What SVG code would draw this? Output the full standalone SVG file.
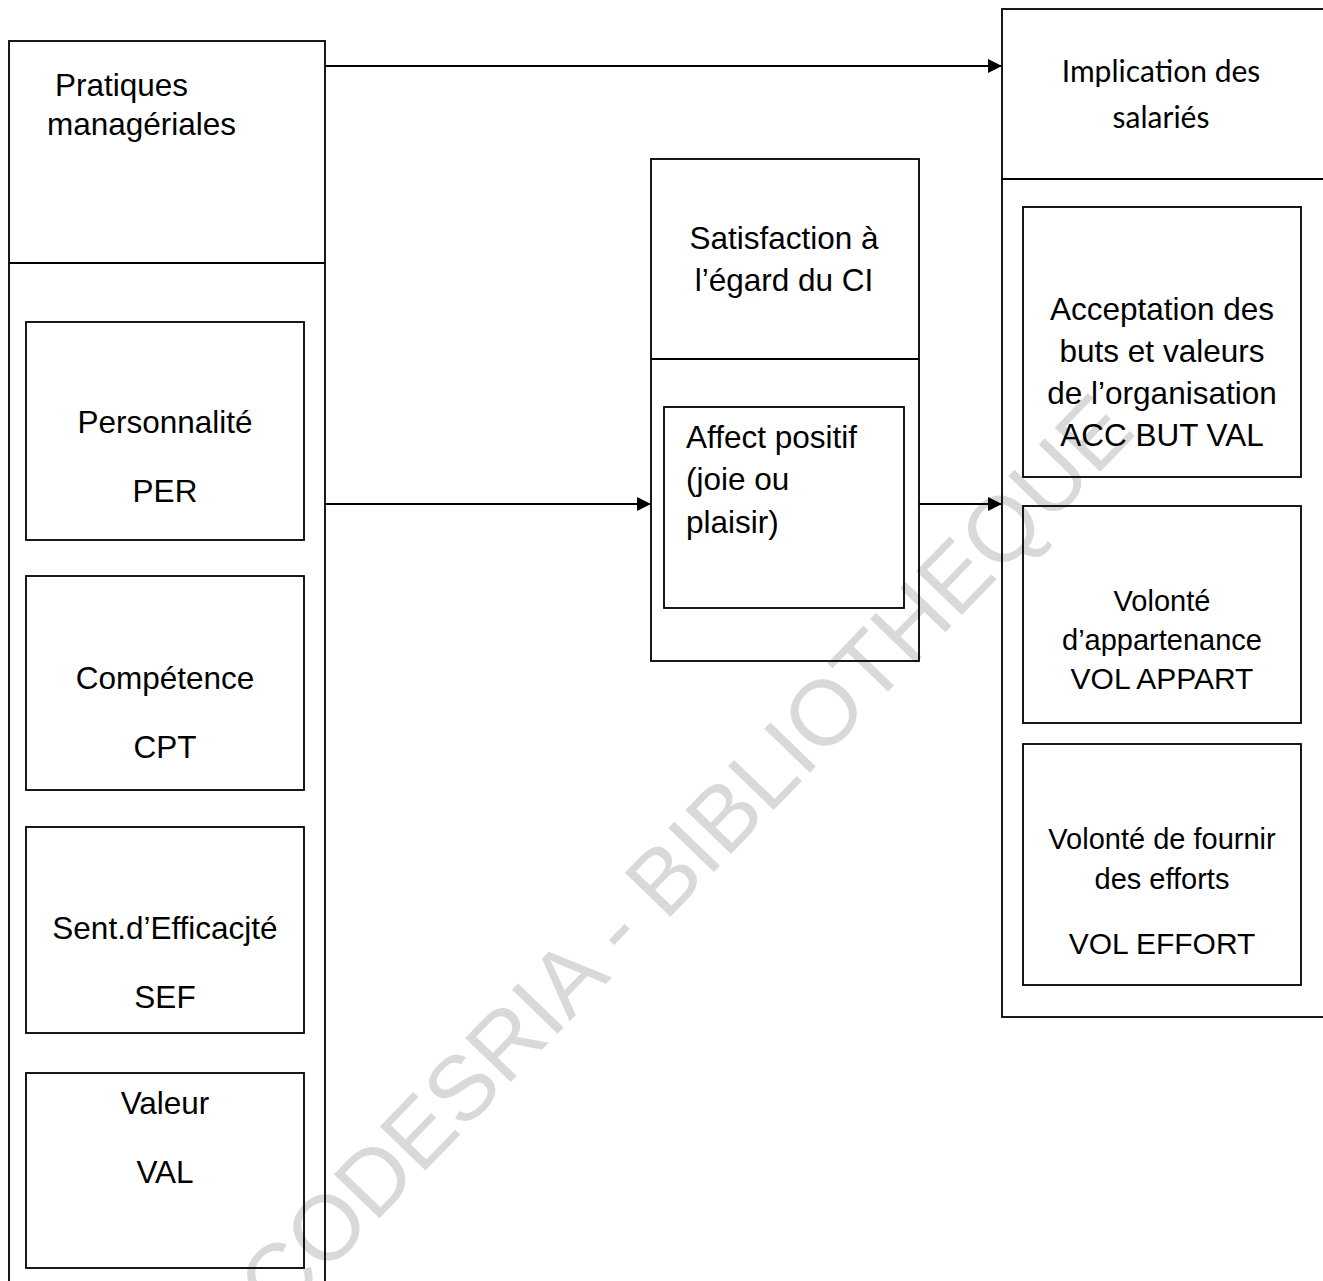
<svg xmlns="http://www.w3.org/2000/svg" width="1323" height="1281" viewBox="0 0 1323 1281">
  <defs>
    <style>
      .box { fill: none; stroke: #000; stroke-width: 1.8; }
      .wire { fill: none; stroke: #000; stroke-width: 1.8; }
      .lbl { font-family: "Liberation Sans", Arial, sans-serif; font-size: 31.5px; fill: #000; }
      .sm { font-size: 29px; }
      .md { font-size: 30px; }
      .mid { text-anchor: middle; }
      .cal { font-family: Lato, "Liberation Sans", sans-serif; font-size: 30px; fill: #000; text-anchor: middle; }
      .mark { font-family: "Liberation Sans", Arial, sans-serif; font-size: 92px; fill: #d9d9d9; text-anchor: middle; }
    </style>
    <marker id="arrow" viewBox="0 0 14 14" refX="14" refY="7" markerWidth="14" markerHeight="14" markerUnits="userSpaceOnUse" orient="auto">
      <path d="M0,0 L14,7 L0,14 Z" fill="#000"/>
    </marker>
  </defs>
  <rect width="1323" height="1281" fill="#fff"/>

  <!-- library stamp, drawn beneath everything -->
  <text class="mark" x="708" y="878" transform="rotate(-46 708 878)">CODESRIA - BIBLIOTHEQUE</text>

  <!-- Managerial practices column -->
  <g id="pratiques">
    <rect class="box" x="9" y="41" width="316" height="1260"/>
    <line class="box" x1="9" y1="263" x2="325" y2="263"/>
    <text class="lbl" x="55" y="96">Pratiques</text>
    <text class="lbl" x="47" y="135">managériales</text>
  </g>
  <g id="per">
    <rect class="box" x="26" y="322" width="278" height="218"/>
    <text class="lbl mid" x="165" y="433">Personnalité</text>
    <text class="lbl mid" x="165" y="502">PER</text>
  </g>
  <g id="cpt">
    <rect class="box" x="26" y="576" width="278" height="214"/>
    <text class="lbl mid" x="165" y="689">Compétence</text>
    <text class="lbl mid" x="165" y="758">CPT</text>
  </g>
  <g id="sef">
    <rect class="box" x="26" y="827" width="278" height="206"/>
    <text class="lbl mid" x="165" y="939">Sent.d’Efficacjté</text>
    <text class="lbl mid" x="165" y="1008">SEF</text>
  </g>
  <g id="val">
    <rect class="box" x="26" y="1073" width="278" height="195"/>
    <text class="lbl mid" x="165" y="1114">Valeur</text>
    <text class="lbl mid" x="165" y="1183">VAL</text>
  </g>

  <!-- Satisfaction column -->
  <g id="satisfaction">
    <rect class="box" x="651" y="159" width="268" height="502"/>
    <line class="box" x1="651" y1="359" x2="919" y2="359"/>
    <text class="lbl mid" x="784" y="249">Satisfaction à</text>
    <text class="lbl mid" x="784" y="291">l’égard du CI</text>
  </g>
  <g id="affect">
    <rect class="box" x="664" y="407" width="240" height="201"/>
    <text class="lbl" x="686" y="448">Affect positif</text>
    <text class="lbl" x="686" y="490">(joie ou</text>
    <text class="lbl" x="686" y="533">plaisir)</text>
  </g>

  <!-- Employee commitment column -->
  <g id="implication">
    <rect class="box" x="1002" y="9" width="340" height="1008"/>
    <line class="box" x1="1002" y1="179" x2="1323" y2="179"/>
    <text class="cal" x="1161" y="82">Implication des</text>
    <text class="cal" x="1161" y="128">salariés</text>
  </g>
  <g id="acc">
    <rect class="box" x="1023" y="207" width="278" height="270"/>
    <text class="lbl mid" x="1162" y="320">Acceptation des</text>
    <text class="lbl mid" x="1162" y="362">buts et valeurs</text>
    <text class="lbl mid" x="1162" y="404">de l’organisation</text>
    <text class="lbl mid" x="1162" y="446">ACC BUT VAL</text>
  </g>
  <g id="vol-appart">
    <rect class="box" x="1023" y="506" width="278" height="217"/>
    <text class="lbl mid sm" x="1162" y="611">Volonté</text>
    <text class="lbl mid sm" x="1162" y="650">d’appartenance</text>
    <text class="lbl mid md" x="1162" y="689">VOL APPART</text>
  </g>
  <g id="vol-effort">
    <rect class="box" x="1023" y="744" width="278" height="241"/>
    <text class="lbl mid sm" x="1162" y="849">Volonté de fournir</text>
    <text class="lbl mid sm" x="1162" y="889">des efforts</text>
    <text class="lbl mid md" x="1162" y="954">VOL EFFORT</text>
  </g>

  <!-- Connectors -->
  <g id="connectors">
    <line class="wire" x1="325" y1="66" x2="1002" y2="66" marker-end="url(#arrow)"/>
    <line class="wire" x1="325" y1="504" x2="651" y2="504" marker-end="url(#arrow)"/>
    <line class="wire" x1="919" y1="504" x2="1002" y2="504" marker-end="url(#arrow)"/>
  </g>
</svg>
